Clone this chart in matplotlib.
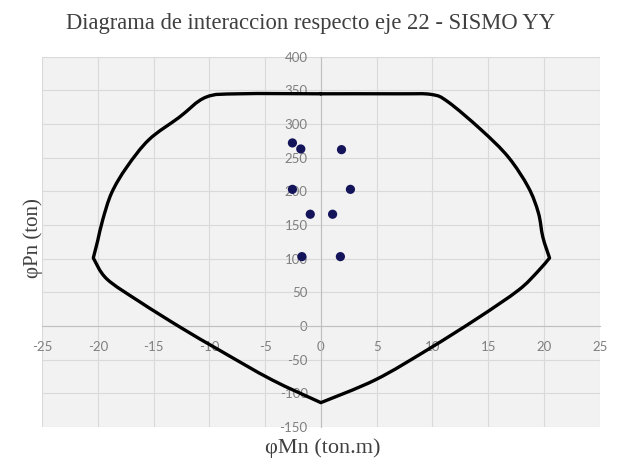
import matplotlib
matplotlib.use("Agg")
import matplotlib.pyplot as plt
from matplotlib.path import Path
from matplotlib.patches import PathPatch

# Interaction diagram curve (phiMn, phiPn)
curve_m = [0.0, 7.0, 9.9, 11.4, 14.4, 16.8, 18.6, 19.5, 19.9, 20.5, 19.4, 17.7,
           14.1, 9.6, 4.9, 0.0, -4.4, -9.1, -12.5, -16.25, -19.2, -20.4,
           -20.0, -19.55, -18.75, -17.4, -15.4, -12.7, -10.3, -7.3, 0.0]
curve_p = [345, 345, 344, 333, 291, 251, 206, 168, 132, 101, 80, 53,
           12, -35, -80, -114, -80, -36, -3, 36, 70, 101,
           127, 158, 198, 236, 277, 310, 340, 345, 345]
# indices of sharp vertices of the diagram
corner_idx = [9, 15, 21]

# Demand points
pts_m = [-2.55, -1.8, 1.85, -2.55, 2.65, -0.95, 1.05, -1.7, 1.75]
pts_p = [272, 263, 262, 203, 203, 166, 166, 103, 103]

title = "Diagrama de interaccion respecto eje 22 - SISMO YY"
xlabel = "\u03c6Mn (ton.m)"
ylabel = "\u03c6Pn (ton)"
xticks = [-25, -20, -15, -10, -5, 0, 5, 10, 15, 20, 25]
yticks = [-150, -100, -50, 0, 50, 100, 150, 200, 250, 300, 350, 400]


def smooth_path(xs, ys, corners):
    """Excel-like smoothed line: Catmull-Rom segments drawn as cubic Beziers."""
    pts = list(zip(xs, ys))
    n = len(pts)
    verts = [pts[0]]
    codes = [Path.MOVETO]
    for i in range(n - 1):
        p1 = pts[i]
        p2 = pts[i + 1]
        p0 = pts[i - 1] if (i > 0 and i not in corners) else p1
        p3 = pts[i + 2] if (i + 2 < n and (i + 1) not in corners) else p2
        c1 = (p1[0] + (p2[0] - p0[0]) / 6.0, p1[1] + (p2[1] - p0[1]) / 6.0)
        c2 = (p2[0] - (p3[0] - p1[0]) / 6.0, p2[1] - (p3[1] - p1[1]) / 6.0)
        verts += [c1, c2, p2]
        codes += [Path.CURVE4, Path.CURVE4, Path.CURVE4]
    return Path(verts, codes)


fig = plt.figure(figsize=(6.36, 4.58), dpi=100)
fig.patch.set_facecolor("white")
ax = fig.add_axes([0.066, 0.068, 0.877, 0.808])
ax.set_facecolor("#f2f2f2")

patch = PathPatch(smooth_path(curve_m, curve_p, corner_idx), facecolor="none",
                  edgecolor="black", lw=2.4, joinstyle="round", capstyle="round", zorder=3)
ax.add_patch(patch)
ax.scatter(pts_m, pts_p, s=44, color="#14145a", zorder=4, edgecolors="none")

ax.set_xlim(-25, 25)
ax.set_ylim(-150, 400)
ax.set_xticks(xticks)
ax.set_yticks(yticks)
ax.grid(True, color="#d9d9d9", lw=0.8, zorder=0)
ax.set_axisbelow(True)

for s in ["top", "right"]:
    ax.spines[s].set_visible(False)
ax.spines["left"].set_position(("data", 0))
ax.spines["bottom"].set_position(("data", 0))
ax.spines["left"].set_color("#bfbfbf")
ax.spines["bottom"].set_color("#bfbfbf")
ax.spines["left"].set_linewidth(0.8)
ax.spines["bottom"].set_linewidth(0.8)

tickfont = dict(family="Lato", size=9.5)
ax.set_xticklabels([str(v) for v in xticks], color="#7f7f7f", **tickfont)
ax.set_yticklabels([str(v) for v in yticks], color="#7f7f7f", **tickfont)
ax.tick_params(axis="x", length=0, pad=11)
ax.tick_params(axis="y", length=0, pad=9.5)

fig.text(0.488, 0.948, title, ha="center", va="center", family="Liberation Serif",
         fontsize=16.3, color="#404040")
fig.text(0.507, 0.022, xlabel, ha="center", va="center", family="Liberation Serif",
         fontsize=16, color="#404040")
fig.text(0.052, 0.48, ylabel, ha="center", va="center", rotation=90,
         family="Liberation Serif", fontsize=15, color="#404040")

fig.savefig("out.png", dpi=100)
